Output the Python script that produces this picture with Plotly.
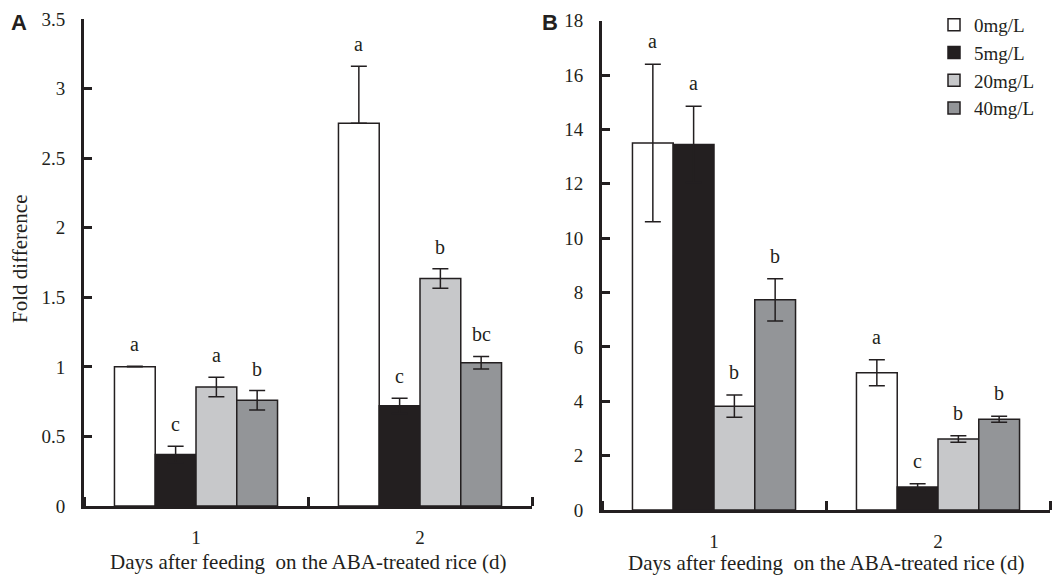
import plotly.graph_objects as go

days = [1, 2]
day_labels = ["1", "2"]
series = ["0mg/L", "5mg/L", "20mg/L", "40mg/L"]

# Panel A (fold difference)
a_vals = [[1.00, 2.75], [0.37, 0.72], [0.855, 1.635], [0.76, 1.03]]
a_err_plus = [[0.005, 0.41], [0.06, 0.055], [0.07, 0.07], [0.07, 0.045]]
a_err_minus = [[0.0, 0.0], [0.06, 0.055], [0.07, 0.07], [0.07, 0.045]]
a_letters = [["a", "a"], ["c", "c"], ["a", "b"], ["b", "bc"]]

# Panel B
b_vals = [[13.5, 5.05], [13.45, 0.85], [3.82, 2.61], [7.73, 3.34]]
b_err = [[2.9, 0.48], [1.4, 0.12], [0.41, 0.12], [0.78, 0.11]]
b_letters = [["a", "a"], ["a", "c"], ["b", "b"], ["b", "b"]]

a_ticks = [0, 0.5, 1, 1.5, 2, 2.5, 3, 3.5]
a_ticktext = ["0", "0.5", "1", "1.5", "2", "2.5", "3", "3.5"]
b_ticks = [0, 2, 4, 6, 8, 10, 12, 14, 16, 18]

x_title = "Days after feeding\u00a0 on the ABA-treated rice (d)"
y_title = "Fold difference"

fills = ["#ffffff", "#231f20", "#c7c8ca", "#939598"]
edge = "#231f20"
serif = "Liberation Serif"
W, H = 1052, 577
BARGAP = 0.272
bw = (1 - BARGAP) / 4

fig = go.Figure()
for i, name in enumerate(series):
    fig.add_trace(go.Bar(
        x=days, y=a_vals[i], name=name, xaxis="x", yaxis="y",
        marker=dict(color=fills[i], line=dict(color=edge, width=1.5)),
        error_y=dict(type="data", symmetric=False, array=a_err_plus[i],
                     arrayminus=a_err_minus[i], color=edge, thickness=1.5, width=8),
        showlegend=False, legendgroup=name))
for i, name in enumerate(series):
    fig.add_trace(go.Bar(
        x=days, y=b_vals[i], name=name, xaxis="x2", yaxis="y2",
        marker=dict(color=fills[i], line=dict(color=edge, width=1.5)),
        error_y=dict(type="data", array=b_err[i], color=edge, thickness=1.5, width=8),
        showlegend=True, legendgroup=name))

ann = []
for i in range(4):
    off = (i - 1.5) * bw
    for j, d in enumerate(days):
        ann.append(dict(x=d + off, y=a_vals[i][j] + a_err_plus[i][j], xref="x", yref="y",
                        text=a_letters[i][j], showarrow=False, yanchor="middle", yshift=22,
                        font=dict(family=serif, size=20, color=edge)))
        ann.append(dict(x=d + off, y=b_vals[i][j] + b_err[i][j], xref="x2", yref="y2",
                        text=b_letters[i][j], showarrow=False, yanchor="middle", yshift=23,
                        font=dict(family=serif, size=20, color=edge)))

ann += [
    dict(x=308 / W, y=1 - 562 / H, xref="paper", yref="paper", text=x_title, showarrow=False,
         xanchor="center", yanchor="middle", font=dict(family=serif, size=21, color=edge)),
    dict(x=826 / W, y=1 - 563 / H, xref="paper", yref="paper", text=x_title, showarrow=False,
         xanchor="center", yanchor="middle", font=dict(family=serif, size=21, color=edge)),
    dict(x=20 / W, y=1 - 259 / H, xref="paper", yref="paper", text=y_title, showarrow=False,
         textangle=-90, xanchor="center", yanchor="middle",
         font=dict(family=serif, size=21, color=edge)),
    dict(x=19 / W, y=1 - 22 / H, xref="paper", yref="paper", text="<b>A</b>", showarrow=False,
         xanchor="center", yanchor="middle", font=dict(family="Liberation Sans", size=22, color=edge)),
    dict(x=550 / W, y=1 - 22 / H, xref="paper", yref="paper", text="<b>B</b>", showarrow=False,
         xanchor="center", yanchor="middle", font=dict(family="Liberation Sans", size=22, color=edge)),
]

xcommon = dict(range=[0.5, 2.5], tickvals=days, ticktext=day_labels, ticks="",
               showline=True, linewidth=3, linecolor=edge, showgrid=False, zeroline=False,
               tickfont=dict(family=serif, size=19, color=edge), ticklabelstandoff=12,
               minor=dict(tick0=0.5, dtick=1, ticks="inside", ticklen=9, tickwidth=3,
                          tickcolor=edge, showgrid=False))
ycommon = dict(ticks="inside", ticklen=8, tickwidth=3, tickcolor=edge, showline=True,
               linewidth=3, linecolor=edge, showgrid=False, zeroline=False,
               tickfont=dict(family=serif, size=19, color=edge), ticklabelstandoff=12)

fig.update_layout(
    width=W, height=H, margin=dict(l=0, r=0, t=0, b=0, autoexpand=False),
    paper_bgcolor="white", plot_bgcolor="white",
    barmode="group", bargap=BARGAP, bargroupgap=0,
    xaxis=dict(domain=[84 / W, 532 / W], anchor="y", **xcommon),
    xaxis2=dict(domain=[602 / W, 1050 / W], anchor="y2", **xcommon),
    yaxis=dict(domain=[(H - 506) / H, (H - 19) / H], anchor="x", range=[0, 3.5],
               tickvals=a_ticks, ticktext=a_ticktext, **ycommon),
    yaxis2=dict(domain=[(H - 510) / H, (H - 20.7) / H], anchor="x2", range=[0, 18],
                tickvals=b_ticks, **ycommon),
    legend=dict(x=934 / W, y=1 - 6 / H, xanchor="left", yanchor="top",
                font=dict(family=serif, size=19, color=edge), bgcolor="rgba(0,0,0,0)",
                tracegroupgap=0, itemwidth=30),
    annotations=ann,
    font=dict(family=serif, color=edge),
)

fig.write_html("out.html", config={"displayModeBar": False},
               post_script="document.body.style.margin='0';document.body.style.overflow='hidden';")
